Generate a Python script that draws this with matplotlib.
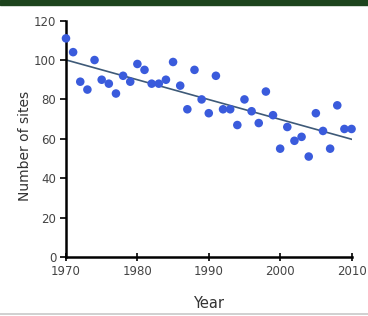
import numpy as np
import matplotlib
matplotlib.use('Agg')
import matplotlib.pyplot as plt
from matplotlib.patches import Rectangle

plt.rcParams['font.family'] = ['DejaVu Sans']

# 每年的监测点数量
years = list(range(1970, 2011))
sites = [111, 104, 89, 85, 100, 90, 88, 83, 92, 89,
         98, 95, 88, 88, 90, 99, 87, 75, 95, 80,
         73, 92, 75, 75, 67, 80, 74, 68, 84, 72,
         55, 66, 59, 61, 51, 73, 64, 55, 77, 65,
         65]

x_ticks = [1970, 1980, 1990, 2000, 2010]
y_ticks = [0, 20, 40, 60, 80, 100, 120]

fig = plt.figure(figsize=(3.68, 3.16), dpi=100)
ax = fig.add_axes([0.1793, 0.1867, 0.776, 0.748])

# 顶部深绿色条
fig.patches.append(Rectangle((0, 1 - 5 / 316), 1, 5 / 316, transform=fig.transFigure,
                             color='#1d441d', zorder=5))
# 底部浅灰分隔线
fig.lines.append(plt.Line2D([0, 1], [2.5 / 316, 2.5 / 316], transform=fig.transFigure,
                            color='#c8c8c8', lw=1.2))

# 线性拟合趋势线
k, b = np.polyfit(years, sites, 1)
xs = np.array([years[0], years[-1]])
ax.plot(xs, k * xs + b, color='#3e5a78', lw=1.2, zorder=2)

ax.scatter(years, sites, s=38, color='#3a5bdc', edgecolors='none', zorder=3, clip_on=False)

ax.set_xlim(1970, 2010)
ax.set_ylim(0, 120)
ax.set_xticks(x_ticks)
ax.set_yticks(y_ticks)
for s in ['top', 'right']:
    ax.spines[s].set_visible(False)
for s in ['left', 'bottom']:
    ax.spines[s].set_linewidth(1.8)
    ax.spines[s].set_color('black')
ax.tick_params(axis='y', direction='out', length=4, width=1.2, labelsize=8.5,
               labelcolor='#444444', pad=3)
ax.tick_params(axis='x', direction='inout', length=6, width=1.2, labelsize=8.5,
               labelcolor='#444444', pad=3)

ax.set_xlabel('Year', fontsize=10.5, color='#333333', labelpad=13)
ax.set_ylabel('Number of sites', fontsize=10, color='#333333')
ax.yaxis.set_label_coords(-0.12, 0.47)

fig.savefig('out.png', dpi=100)
